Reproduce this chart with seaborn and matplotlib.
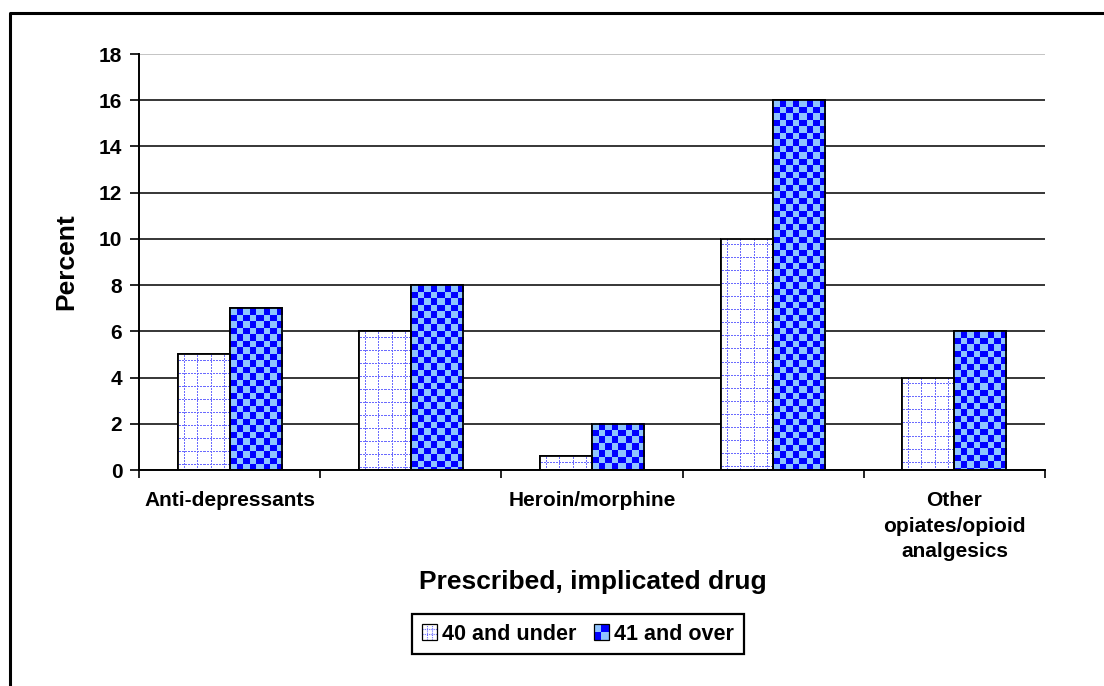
import numpy as np
import pandas as pd
import matplotlib
matplotlib.use("Agg")
import matplotlib.pyplot as plt
import seaborn as sns
from matplotlib.patches import Rectangle
from matplotlib.lines import Line2D
from matplotlib.legend_handler import HandlerBase

# ---- data -------------------------------------------------------------
slot_labels = ["Anti-depressants", "", "Heroin/morphine", "",
               "Other\nopiates/opioid\nanalgesics"]
age_groups = ["40 and under", "41 and over"]
pct_40_under = [5, 6, 0.6, 10, 4]
pct_41_over = [7, 8, 2, 16, 6]
y_ticks = [0, 2, 4, 6, 8, 10, 12, 14, 16, 18]

# ---- style ------------------------------------------------------------
sns.set_theme(style="white")
plt.rcParams["font.family"] = ["Liberation Sans", "DejaVu Sans"]
plt.rcParams["font.weight"] = "bold"
for key in ("text.color", "axes.labelcolor", "xtick.color", "ytick.color"):
    plt.rcParams[key] = "black"

BLUE = "#0000FF"
BLUE_RGB = (0.0, 0.0, 1.0)
LIGHT_BLUE = (0.56, 0.77, 1.0)
DOT_BLUE = (0.42, 0.42, 1.0)

df = pd.DataFrame({
    "slot": list(range(len(slot_labels))) * 2,
    "group": [age_groups[0]] * len(pct_40_under) + [age_groups[1]] * len(pct_41_over),
    "pct": pct_40_under + pct_41_over,
})

W, H = 1104, 686
fig = plt.figure(figsize=(W / 100, H / 100), dpi=100)
ax = fig.add_axes([139 / W, 1 - 470 / H, (1045 - 139) / W, (470 - 54) / H])

sns.barplot(data=df, x="slot", y="pct", hue="group",
            order=list(range(len(slot_labels))), hue_order=age_groups,
            palette={age_groups[0]: "white", age_groups[1]: BLUE},
            saturation=1, width=0.575, edgecolor="black", linewidth=1.3,
            errorbar=None, legend=False, ax=ax)

ax.set_xlim(-0.5, len(slot_labels) - 0.5)
ax.set_ylim(0, 18)


# ---- bar fill textures --------------------------------------------------
def texture(kind, w, h):
    yy, xx = np.mgrid[0:h, 0:w]
    if kind == "check":
        cell = 6.5
        mask = ((np.floor(xx / cell) + np.floor(yy / cell)) % 2).astype(bool)
        img = np.where(mask[..., None], np.array(BLUE_RGB), np.array(LIGHT_BLUE))
    else:
        img = np.ones((h, w, 3))
        vline = ((xx % 13) == 6) & ((yy % 3) != 0)
        hline = ((yy % 13) == 6) & ((xx % 3) != 0)
        img[vline | hline] = DOT_BLUE
    return img


bars = list(ax.patches)
for bar in bars:
    x0, y0 = bar.get_x(), bar.get_y()
    x1, y1 = x0 + bar.get_width(), y0 + bar.get_height()
    (px0, py0), (px1, py1) = ax.transData.transform([[x0, y0], [x1, y1]])
    pw, ph = max(int(round(px1 - px0)), 1), max(int(round(py1 - py0)), 1)
    fc = bar.get_facecolor()
    kind = "dots" if fc[0] > 0.9 and fc[1] > 0.9 else "check"
    ax.imshow(texture(kind, pw, ph), extent=(x0, x1, y0, y1), origin="upper",
              interpolation="nearest", aspect="auto",
              zorder=bar.get_zorder() + 0.1)
    ax.add_patch(Rectangle((x0, y0), x1 - x0, y1 - y0, fill=False,
                           edgecolor="black", linewidth=1.3,
                           zorder=bar.get_zorder() + 0.2))

ax.set_xlim(-0.5, len(slot_labels) - 0.5)
ax.set_ylim(0, 18)

# ---- axes ---------------------------------------------------------------
ax.set_yticks(y_ticks)
ax.set_yticklabels([str(v) for v in y_ticks], fontsize=15, fontweight="bold")
ax.tick_params(axis="y", direction="out", length=6.5, width=1.2,
               color="black", pad=5.5, left=True)

ax.set_xticks(range(len(slot_labels)))
ax.set_xticklabels(slot_labels, fontsize=15, fontweight="bold")
for lbl in ax.get_xticklabels():
    lbl.set_linespacing(1.45)
ax.set_xticks(np.arange(-0.5, len(slot_labels)), minor=True)
ax.tick_params(axis="x", which="major", length=0, pad=15)
ax.tick_params(axis="x", which="minor", direction="out", length=5.5,
               width=1.2, color="black", bottom=True)

ax.yaxis.grid(True, color="black", linewidth=1.1)
ax.xaxis.grid(False)
ax.set_axisbelow(True)
ax.yaxis.get_gridlines()[-1].set_color("#B4B4B4")

for side in ("top", "right"):
    ax.spines[side].set_visible(False)
for side in ("left", "bottom"):
    ax.spines[side].set_color("black")
    ax.spines[side].set_linewidth(1.4)

ax.set_xlabel("Prescribed, implicated drug", fontsize=19, fontweight="bold")
ax.xaxis.set_label_coords(0.501, -(582 - 470) / 416)
ax.xaxis.label.set_va("center")
ax.set_ylabel("Percent", fontsize=19, fontweight="bold")
ax.yaxis.set_label_coords(-(139 - 66) / 906, 0.5)
ax.yaxis.label.set_va("center")
ax.yaxis.label.set_ha("center")


# ---- legend -------------------------------------------------------------
class SwatchHandler(HandlerBase):
    def __init__(self, kind):
        super().__init__()
        self.kind = kind

    def create_artists(self, legend, orig_handle, xdescent, ydescent,
                       width, height, fontsize, trans):
        s = min(width, height)
        x0 = -xdescent + (width - s) / 2
        y0 = -ydescent + (height - s) / 2
        arts = [Rectangle((x0, y0), s, s, facecolor="white" if self.kind == "dots" else LIGHT_BLUE,
                          edgecolor="none", transform=trans)]
        n = 2
        c = s / n
        for i in range(n):
            for j in range(n):
                if self.kind == "check" and (i + j) % 2 == 0:
                    arts.append(Rectangle((x0 + i * c, y0 + j * c), c, c,
                                          facecolor=BLUE, edgecolor="none",
                                          transform=trans))
        if self.kind == "dots":
            for k in (1, 2):
                arts.append(Line2D([x0 + k * s / 3] * 2, [y0, y0 + s], color=DOT_BLUE,
                                   lw=0.8, ls=(0, (1, 1)), transform=trans))
                arts.append(Line2D([x0, x0 + s], [y0 + k * s / 3] * 2, color=DOT_BLUE,
                                   lw=0.8, ls=(0, (1, 1)), transform=trans))
        arts.append(Rectangle((x0, y0), s, s, fill=False, edgecolor="black",
                              linewidth=0.9, transform=trans))
        return arts


h_under = Rectangle((0, 0), 1, 1)
h_over = Rectangle((0, 0), 1, 1)
leg = fig.legend([h_under, h_over], age_groups, loc="center",
                 bbox_to_anchor=(578 / W, 1 - 634 / H), ncol=2,
                 handler_map={h_under: SwatchHandler("dots"), h_over: SwatchHandler("check")},
                 prop={"size": 15.5, "weight": "bold"},
                 frameon=True, fancybox=False, framealpha=1, edgecolor="black",
                 handlelength=0.7, handleheight=0.7, handletextpad=0.25,
                 columnspacing=0.8, borderpad=0.45, borderaxespad=0)
leg.get_frame().set_linewidth(1.6)

# ---- outer frame ----------------------------------------------------------
fig.add_artist(Line2D([10 / W, 10 / W, 1], [0, 1 - 13 / H, 1 - 13 / H],
                      transform=fig.transFigure, color="black", linewidth=2.2))

fig.savefig("out.png", dpi=100, facecolor="white")
